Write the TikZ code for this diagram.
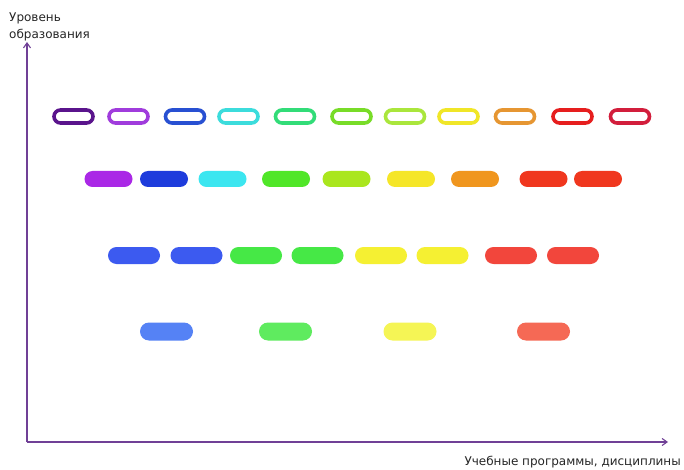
\documentclass[tikz,border=0pt]{standalone}
\usepackage{fontspec}
\setmainfont{DejaVu Sans}
\usetikzlibrary{arrows.meta}
\definecolor{axis}{RGB}{112,64,150}
\tikzset{
  opill/.style={draw=#1, line width=3.6pt, fill=white, minimum width=39pt, minimum height=13pt, rounded corners=6.5pt, inner sep=0pt},
  fpillA/.style={fill=#1, minimum width=48pt, minimum height=16pt, rounded corners=8pt, inner sep=0pt},
  fpillB/.style={fill=#1, minimum width=52pt, minimum height=17pt, rounded corners=8.5pt, inner sep=0pt},
  fpillC/.style={fill=#1, minimum width=53pt, minimum height=18pt, rounded corners=9pt, inner sep=0pt},
  axisline/.style={draw=axis, line width=1.1pt, -{Straight Barb[length=5pt,width=7pt]}},
  lbl/.style={font=\fontsize{12}{17}\selectfont, inner sep=0pt, text=black!85}
}
\begin{document}
\begin{tikzpicture}[x=1pt,y=-1pt]
\useasboundingbox[fill=white] (0,0) rectangle (684,470);
% axes
\coordinate (O) at (27,442);
\coordinate (ytip) at (27,42);
\coordinate (xtip) at (668,442);
\draw[axisline] (O) -- (ytip);
\draw[axisline] (O) -- (xtip);
\node[lbl, anchor=north west, align=left] (ylabel) at (9,13) {Уровень\\образования};
\node[lbl, anchor=base east] (xlabel) at (681,465) {Учебные программы, дисциплины};
% row 1: outlined
\definecolor{c1}{RGB}{90,20,140}
\definecolor{c2}{RGB}{160,60,220}
\definecolor{c3}{RGB}{40,80,210}
\definecolor{c4}{RGB}{60,220,220}
\definecolor{c5}{RGB}{50,220,120}
\definecolor{c6}{RGB}{120,220,40}
\definecolor{c7}{RGB}{170,230,60}
\definecolor{c8}{RGB}{240,230,40}
\definecolor{c9}{RGB}{230,150,50}
\definecolor{c10}{RGB}{230,30,30}
\definecolor{c11}{RGB}{210,30,60}
\node[opill=c1] (r1a) at (73.5,116.5) {};
\node[opill=c2] (r1b) at (128.5,116.5) {};
\node[opill=c3] (r1c) at (185,116.5) {};
\node[opill=c4] (r1d) at (238.5,116.5) {};
\node[opill=c5] (r1e) at (295,116.5) {};
\node[opill=c6] (r1f) at (351.5,116.5) {};
\node[opill=c7] (r1g) at (405,116.5) {};
\node[opill=c8] (r1h) at (458.5,116.5) {};
\node[opill=c9] (r1i) at (515,116.5) {};
\node[opill=c10] (r1j) at (572.5,116.5) {};
\node[opill=c11] (r1k) at (630,116.5) {};
% row 2
\definecolor{d1}{RGB}{170,40,230}
\definecolor{d2}{RGB}{30,60,220}
\definecolor{d3}{RGB}{60,230,240}
\definecolor{d4}{RGB}{80,230,40}
\definecolor{d5}{RGB}{170,230,30}
\definecolor{d6}{RGB}{245,230,40}
\definecolor{d7}{RGB}{240,150,30}
\definecolor{d8}{RGB}{240,55,30}
\node[fpillA=d1] (r2a) at (108.5,179) {};
\node[fpillA=d2] (r2b) at (164,179) {};
\node[fpillA=d3] (r2c) at (222.5,179) {};
\node[fpillA=d4] (r2d) at (286,179) {};
\node[fpillA=d5] (r2e) at (346.5,179) {};
\node[fpillA=d6] (r2f) at (411,179) {};
\node[fpillA=d7] (r2g) at (475,179) {};
\node[fpillA=d8] (r2h) at (543.5,179) {};
\node[fpillA=d8] (r2i) at (598,179) {};
% row 3
\definecolor{e1}{RGB}{60,90,240}
\definecolor{e2}{RGB}{70,232,70}
\definecolor{e3}{RGB}{245,240,50}
\definecolor{e4}{RGB}{242,70,60}
\node[fpillB=e1] (r3a) at (134,255.5) {};
\node[fpillB=e1] (r3b) at (196.5,255.5) {};
\node[fpillB=e2] (r3c) at (256,255.5) {};
\node[fpillB=e2] (r3d) at (317.5,255.5) {};
\node[fpillB=e3] (r3e) at (381,255.5) {};
\node[fpillB=e3] (r3f) at (442.5,255.5) {};
\node[fpillB=e4] (r3g) at (511,255.5) {};
\node[fpillB=e4] (r3h) at (573,255.5) {};
% row 4
\definecolor{f1}{RGB}{85,130,245}
\definecolor{f2}{RGB}{95,235,95}
\definecolor{f3}{RGB}{245,245,85}
\definecolor{f4}{RGB}{245,105,85}
\node[fpillC=f1] (r4a) at (166.5,331.5) {};
\node[fpillC=f2] (r4b) at (285.5,331.5) {};
\node[fpillC=f3] (r4c) at (410,331.5) {};
\node[fpillC=f4] (r4d) at (543.5,331.5) {};
\end{tikzpicture}
\end{document}
